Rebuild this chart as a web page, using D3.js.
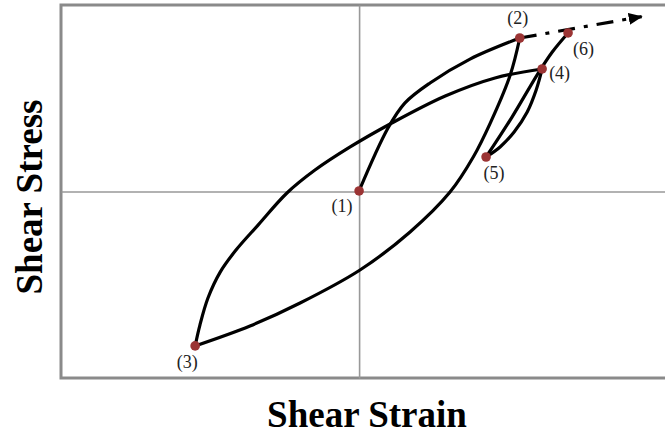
<!DOCTYPE html>
<html>
<head>
<meta charset="utf-8">
<script src="https://cdn.jsdelivr.net/npm/d3@7"></script>
<style>
  html, body { margin: 0; padding: 0; background: #fff; }
  svg { display: block; }
</style>
</head>
<body>
<svg id="chart" width="665" height="434"></svg>
<script>
// Stress–strain path of a cyclic shear test (strain, stress in relative units)
const loading = [[0, 0.3], [9.7, 34.0], [15.4, 47.5], [23.8, 58.2], [37.2, 71.0], [53.9, 82.3]];
const unloading = [[53.9, 82.3], [50.7, 62.5], [44.0, 36.7], [38.3, 18.5], [30.5, -0.3], [17.1, -21.7], [0.3, -42.1], [-19.8, -59.8], [-36.6, -72.1], [-55.0, -82.8]];
const reloading = [[-55.0, -82.8], [-53.4, -71.6], [-50.7, -57.1], [-46.6, -43.2], [-41.3, -31.4], [-33.9, -18.0], [-24.2, -0.8], [-14.8, 11.5], [-3.0, 23.9], [10.4, 36.2], [28.9, 51.2], [45.6, 60.9], [61.4, 65.7]];
const unloading2 = [[61.4, 65.7], [59.4, 54.4], [56.4, 42.6], [52.0, 31.9], [47.3, 23.9], [42.6, 18.5]];
const reloading2 = [[42.6, 18.5], [51.3, 39.9], [60.1, 63.5], [64.8, 74.8], [70.1, 85.0]];
const trend = [[53.9, 82.3], [94.8, 93.8]];

const stateLabels = ["(1)", "(2)", "(3)", "(4)", "(5)", "(6)"];
const statePoints = [[0, 0.3], [53.9, 82.3], [-55.0, -82.8], [61.4, 65.7], [42.6, 18.5], [70.1, 85.0]];

const xTitle = "Shear Strain";
const yTitle = "Shear Stress";

const svg = d3.select("#chart");
const plot = { left: 61, top: 5, right: 687, bottom: 378 };

const x = d3.scaleLinear().domain([-100, 110]).range([plot.left, plot.right]);
const y = d3.scaleLinear().domain([-100, 100]).range([plot.bottom, plot.top]);

// Frame
svg.append("rect")
  .attr("x", plot.left).attr("y", plot.top)
  .attr("width", plot.right - plot.left).attr("height", plot.bottom - plot.top)
  .attr("fill", "none").attr("stroke", "#8a8a8a").attr("stroke-width", 3);

// Zero axes through the origin
const axisColor = "#999";
svg.append("g")
  .attr("transform", `translate(0,${y(0)})`)
  .call(d3.axisBottom(x).tickValues([]).tickSizeOuter(0))
  .call(g => g.select(".domain").attr("stroke", axisColor).attr("stroke-width", 1.6));
svg.append("g")
  .attr("transform", `translate(${x(0)},0)`)
  .call(d3.axisLeft(y).tickValues([]).tickSizeOuter(0))
  .call(g => g.select(".domain").attr("stroke", axisColor).attr("stroke-width", 1.6));

// Stress paths
const line = d3.line()
  .x(d => x(d[0])).y(d => y(d[1]))
  .curve(d3.curveCatmullRom.alpha(0.5));

const paths = svg.append("g")
  .attr("fill", "none").attr("stroke", "#000")
  .attr("stroke-width", 3.2).attr("stroke-linecap", "round").attr("stroke-linejoin", "round");

[loading, unloading, reloading, unloading2, reloading2].forEach(seg => {
  paths.append("path").attr("d", line(seg));
});

// Trend continuation with arrowhead
const defs = svg.append("defs");
defs.append("marker")
  .attr("id", "arrowHead")
  .attr("markerUnits", "userSpaceOnUse")
  .attr("viewBox", "0 0 14 12")
  .attr("refX", 13).attr("refY", 6)
  .attr("markerWidth", 14).attr("markerHeight", 12)
  .attr("orient", "auto")
  .append("path").attr("d", "M0,0 L14,6 L0,12 Z").attr("fill", "#000");

svg.append("path")
  .attr("d", d3.line().x(d => x(d[0])).y(d => y(d[1]))(trend))
  .attr("fill", "none").attr("stroke", "#000").attr("stroke-width", 3.2)
  .attr("stroke-dasharray", "17,9,4,9")
  .attr("marker-end", "url(#arrowHead)");

// State markers
svg.append("g").selectAll("circle")
  .data(statePoints)
  .join("circle")
  .attr("cx", d => x(d[0])).attr("cy", d => y(d[1]))
  .attr("r", 4.8).attr("fill", "#9b3434");

// State labels
const labelOffsets = [[-17, 21, "middle"], [-2, -14, "middle"], [-8, 22, "middle"], [7, 10, "start"], [8, 22, "middle"], [5, 22, "start"]];
svg.append("g").selectAll("text")
  .data(statePoints)
  .join("text")
  .attr("x", (d, i) => x(d[0]) + labelOffsets[i][0])
  .attr("y", (d, i) => y(d[1]) + labelOffsets[i][1])
  .attr("text-anchor", (d, i) => labelOffsets[i][2])
  .attr("font-family", "'Liberation Serif', serif")
  .attr("font-size", 18).attr("fill", "#222")
  .text((d, i) => stateLabels[i]);

// Axis titles
svg.append("text")
  .attr("x", 367).attr("y", 427)
  .attr("text-anchor", "middle")
  .attr("font-family", "'Liberation Serif', serif")
  .attr("font-weight", "bold").attr("font-size", 37).attr("fill", "#000")
  .text(xTitle);

svg.append("text")
  .attr("transform", "translate(42,197) rotate(-90)")
  .attr("text-anchor", "middle")
  .attr("font-family", "'Liberation Serif', serif")
  .attr("font-weight", "bold").attr("font-size", 37).attr("fill", "#000")
  .text(yTitle);
</script>
</body>
</html>
